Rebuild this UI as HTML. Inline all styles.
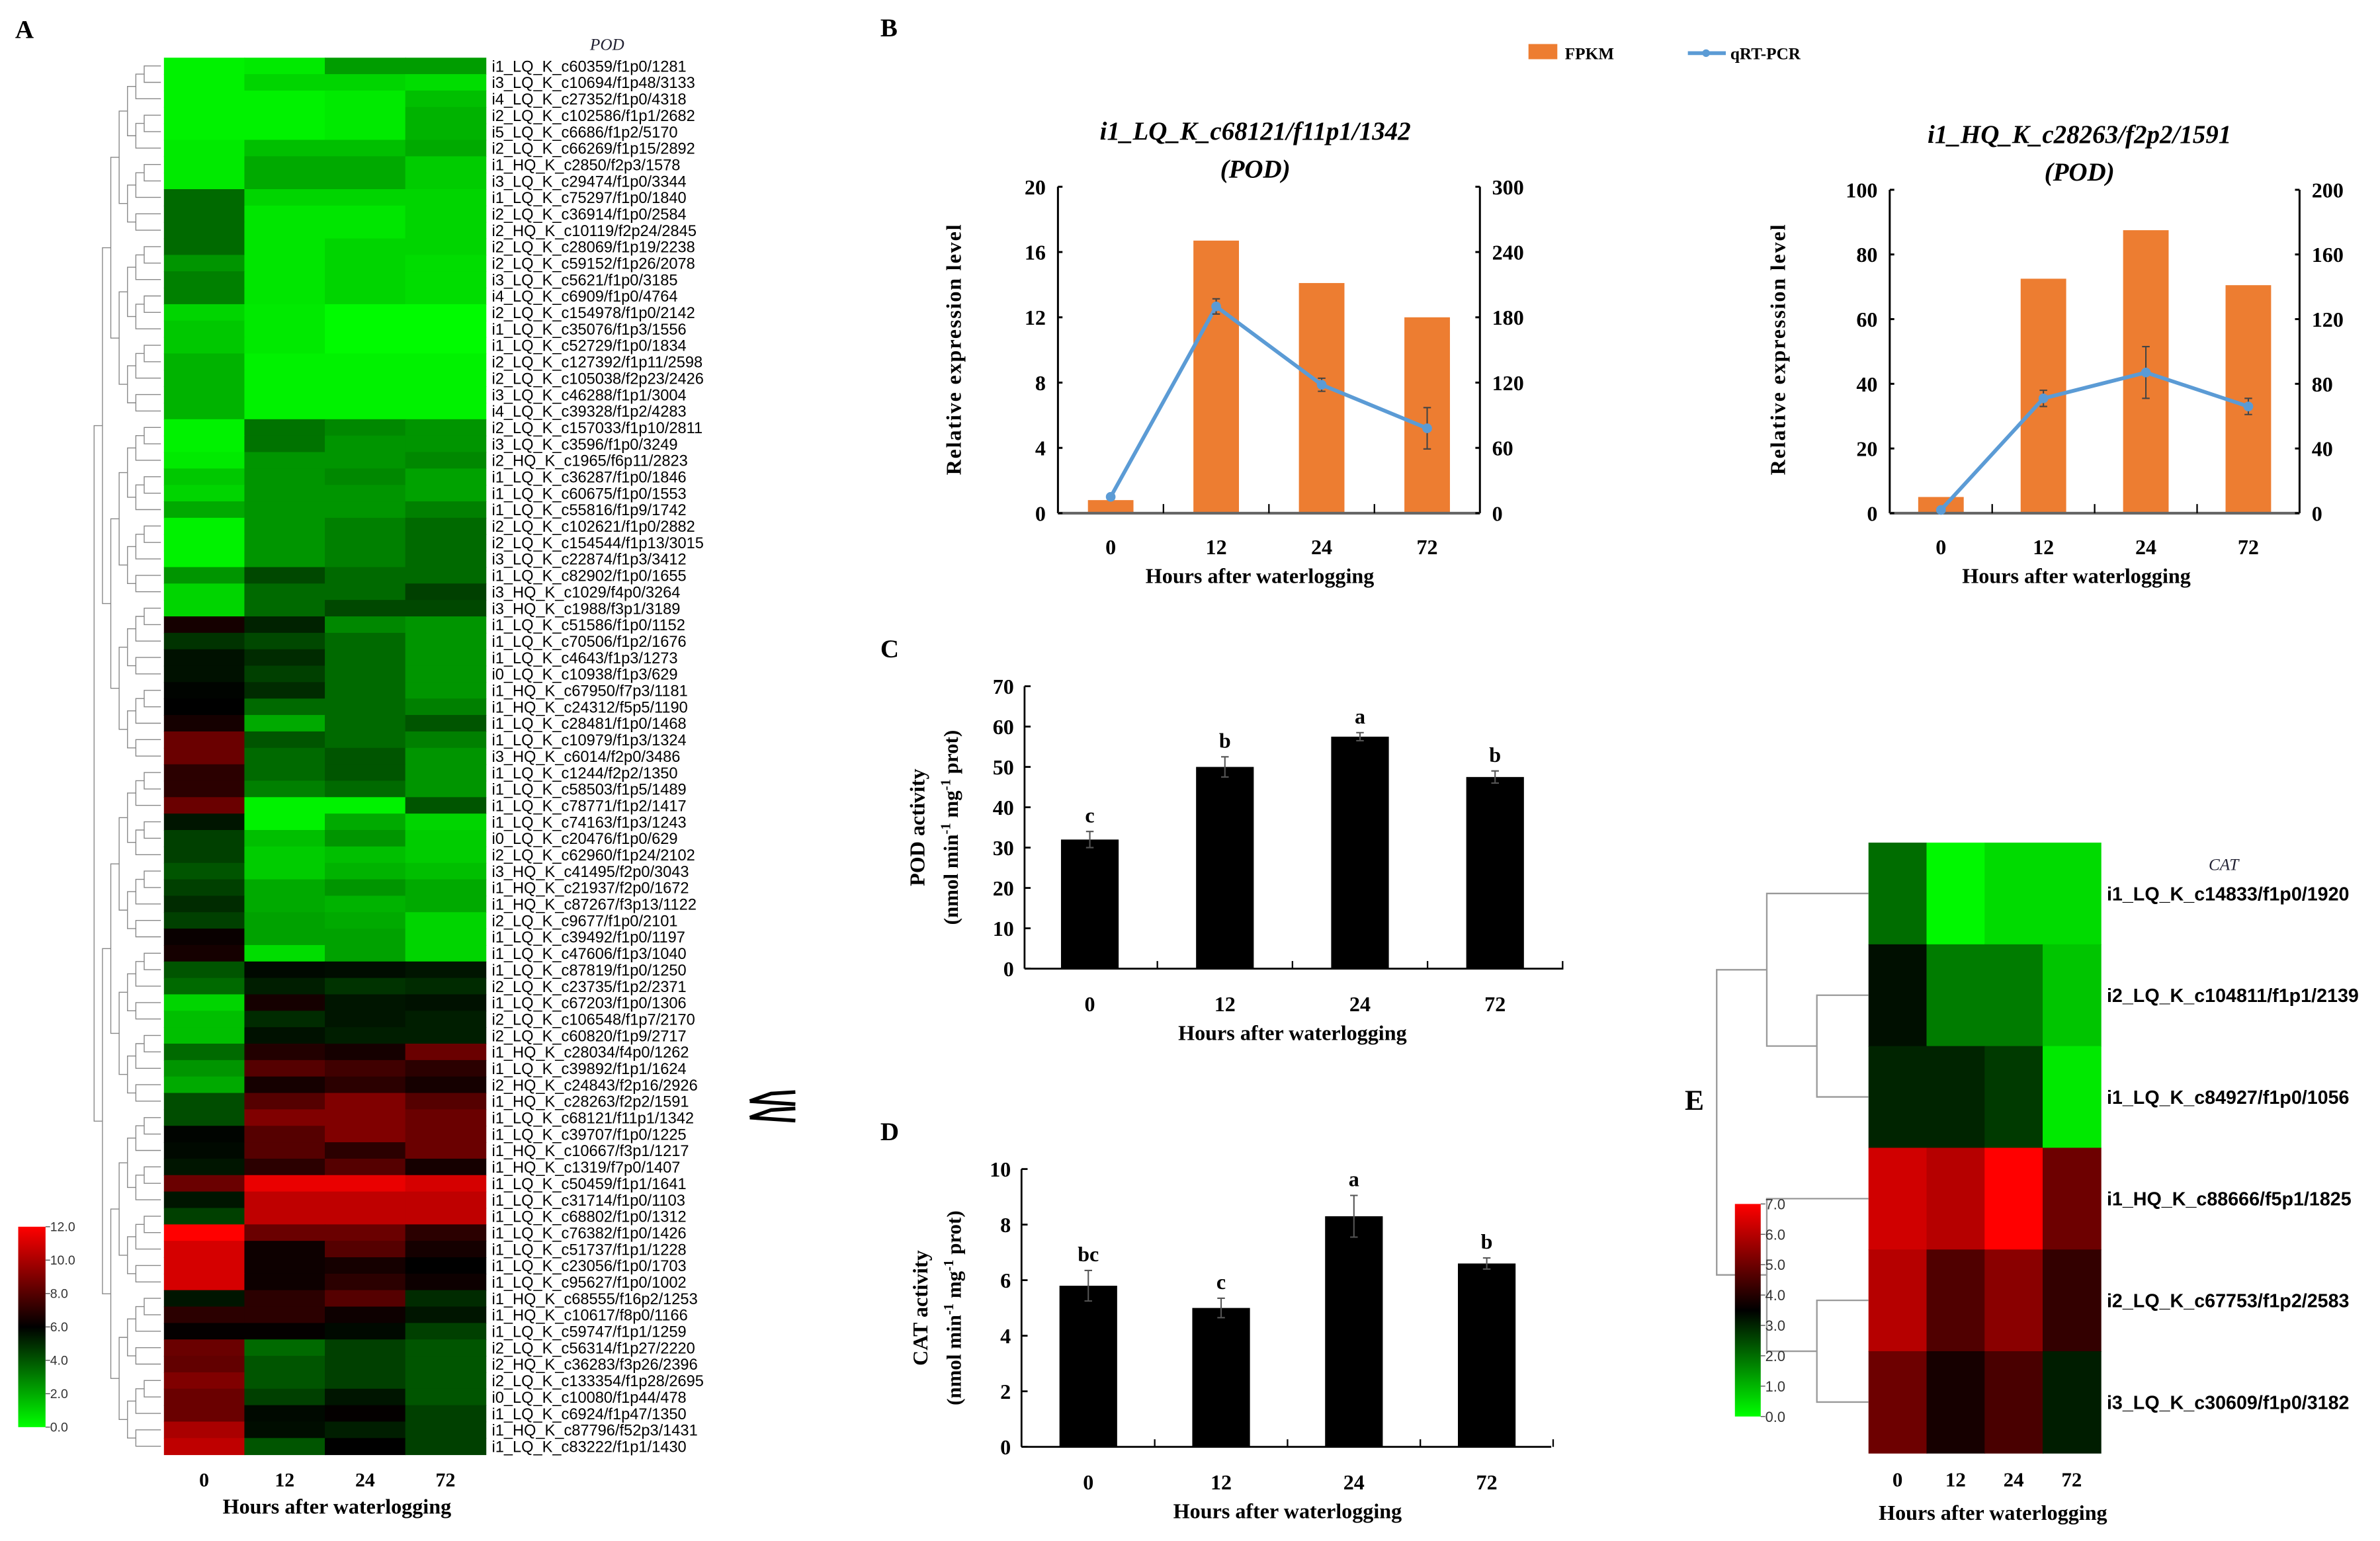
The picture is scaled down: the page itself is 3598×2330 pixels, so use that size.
<!DOCTYPE html>
<html><head><meta charset="utf-8">
<style>
html,body{margin:0;padding:0;background:#fff;}
svg{display:block;}
text{font-family:"Liberation Serif",serif;}
.sans{font-family:"Liberation Sans",sans-serif;}
</style></head>
<body>
<svg id="fig" width="3598" height="2330" viewBox="0 0 1568 1015" preserveAspectRatio="none" xmlns="http://www.w3.org/2000/svg">
<rect x="0" y="0" width="1568" height="1015" fill="#fff"/>
</svg>
<script>
// ---------- DATA ----------
const hoursCats = ["0","12","24","72"];
const podGenes = ["i1_LQ_K_c60359/f1p0/1281","i3_LQ_K_c10694/f1p48/3133","i4_LQ_K_c27352/f1p0/4318","i2_LQ_K_c102586/f1p1/2682","i5_LQ_K_c6686/f1p2/5170","i2_LQ_K_c66269/f1p15/2892","i1_HQ_K_c2850/f2p3/1578","i3_LQ_K_c29474/f1p0/3344","i1_LQ_K_c75297/f1p0/1840","i2_LQ_K_c36914/f1p0/2584","i2_HQ_K_c10119/f2p24/2845","i2_LQ_K_c28069/f1p19/2238","i2_LQ_K_c59152/f1p26/2078","i3_LQ_K_c5621/f1p0/3185","i4_LQ_K_c6909/f1p0/4764","i2_LQ_K_c154978/f1p0/2142","i1_LQ_K_c35076/f1p3/1556","i1_LQ_K_c52729/f1p0/1834","i2_LQ_K_c127392/f1p11/2598","i2_LQ_K_c105038/f2p23/2426","i3_LQ_K_c46288/f1p1/3004","i4_LQ_K_c39328/f1p2/4283","i2_LQ_K_c157033/f1p10/2811","i3_LQ_K_c3596/f1p0/3249","i2_HQ_K_c1965/f6p11/2823","i1_LQ_K_c36287/f1p0/1846","i1_LQ_K_c60675/f1p0/1553","i1_LQ_K_c55816/f1p9/1742","i2_LQ_K_c102621/f1p0/2882","i2_LQ_K_c154544/f1p13/3015","i3_LQ_K_c22874/f1p3/3412","i1_LQ_K_c82902/f1p0/1655","i3_HQ_K_c1029/f4p0/3264","i3_HQ_K_c1988/f3p1/3189","i1_LQ_K_c51586/f1p0/1152","i1_LQ_K_c70506/f1p2/1676","i1_LQ_K_c4643/f1p3/1273","i0_LQ_K_c10938/f1p3/629","i1_HQ_K_c67950/f7p3/1181","i1_HQ_K_c24312/f5p5/1190","i1_LQ_K_c28481/f1p0/1468","i1_LQ_K_c10979/f1p3/1324","i3_HQ_K_c6014/f2p0/3486","i1_LQ_K_c1244/f2p2/1350","i1_LQ_K_c58503/f1p5/1489","i1_LQ_K_c78771/f1p2/1417","i1_LQ_K_c74163/f1p3/1243","i0_LQ_K_c20476/f1p0/629","i2_LQ_K_c62960/f1p24/2102","i3_HQ_K_c41495/f2p0/3043","i1_HQ_K_c21937/f2p0/1672","i1_HQ_K_c87267/f3p13/1122","i2_LQ_K_c9677/f1p0/2101","i1_LQ_K_c39492/f1p0/1197","i1_LQ_K_c47606/f1p3/1040","i1_LQ_K_c87819/f1p0/1250","i2_LQ_K_c23735/f1p2/2371","i1_LQ_K_c67203/f1p0/1306","i2_LQ_K_c106548/f1p7/2170","i2_LQ_K_c60820/f1p9/2717","i1_HQ_K_c28034/f4p0/1262","i1_LQ_K_c39892/f1p1/1624","i2_HQ_K_c24843/f2p16/2926","i1_HQ_K_c28263/f2p2/1591","i1_LQ_K_c68121/f11p1/1342","i1_LQ_K_c39707/f1p0/1225","i1_HQ_K_c10667/f3p1/1217","i1_HQ_K_c1319/f7p0/1407","i1_LQ_K_c50459/f1p1/1641","i1_LQ_K_c31714/f1p0/1103","i1_LQ_K_c68802/f1p0/1312","i1_LQ_K_c76382/f1p0/1426","i1_LQ_K_c51737/f1p1/1228","i1_LQ_K_c23056/f1p0/1703","i1_LQ_K_c95627/f1p0/1002","i1_HQ_K_c68555/f16p2/1253","i1_HQ_K_c10617/f8p0/1166","i1_LQ_K_c59747/f1p1/1259","i2_LQ_K_c56314/f1p27/2220","i2_HQ_K_c36283/f3p26/2396","i2_LQ_K_c133354/f1p28/2695","i0_LQ_K_c10080/f1p44/478","i1_LQ_K_c6924/f1p47/1350","i1_HQ_K_c87796/f52p3/1431","i1_LQ_K_c83222/f1p1/1430"];
const podH0  = [0.3,0.3,0.3,0.3,0.3,0.5,0.5,0.5,3.5,3.5,3.5,3.5,2.5,3,3,1,1.3,1.3,1.8,1.8,1.8,1.8,0.3,0.3,0.5,1.3,1,2,0.3,0.3,0.3,2.5,1,1,6.5,4.8,5.6,5.6,5.9,6,6.5,8.5,8.5,7,7,8.5,5.5,4.5,4.5,4,4.5,5,4.5,6.2,6.5,4,3.5,1,1.5,1.5,3.5,2.5,2,4.2,4.2,5.9,5.8,5.5,8.5,5.5,4.5,12,11,11,11,5.5,7,6.1,8.5,8.3,9,8.5,8.5,10,10.5];
const podH12 = [0.5,1,0.3,0.3,0.3,1.5,2,2,1,0.6,0.6,0.6,0.6,0.6,0.6,0.5,0.5,0.5,0.3,0.3,0.3,0.3,3.3,3.3,2.5,2.5,2.5,2.5,2.5,2.5,2.5,4.3,3.5,3.5,5.2,4.3,5,4.5,5,3.5,2,4,3.5,3.5,3,0.3,0.3,1.5,1.2,1.2,2,2,2.2,2.2,0.8,5.8,5.3,6.5,5,5.6,6.8,8,6.5,8,9,8,8,7,11.5,10.5,10.5,8.5,6.3,6.3,6.3,7,7,6.1,3.5,4,4,4.5,5.8,5.7,4];
const podH24 = [2.3,1,0.5,0.5,0.5,1.5,2,2,1,0.6,0.6,1,1,1,1,0.1,0.1,0.1,0.3,0.3,0.3,0.3,2.8,2.5,2.5,2.8,2.5,2.5,3,3,3,3.5,3.5,4.3,2.8,3.5,3.5,3.5,3.5,3.5,3.5,3.5,4,4,3.5,0.3,2,2.5,1.5,1.8,2.5,1.8,2,2.2,2.2,5.7,4.8,5.5,5.5,5.3,6.5,7.5,7,9,9,9,7,8,11.5,10.5,10.5,8.5,8,6.5,7,8,6.3,5.8,4.5,4.5,4.5,5.5,6.1,5.3,6];
const podH72 = [2.3,0.8,1.5,1.8,1.8,2,1.2,1.2,1,1,1,1,0.8,0.8,0.8,0.1,0.1,0.1,0.3,0.3,0.3,0.3,2.5,2.5,2.8,2.2,2.2,3,3.5,3.5,3.5,3.5,4.5,4.3,2.5,2.5,2.5,2.5,2.5,3,4,3,2.5,2.5,2.5,4,1,1.2,1.2,1.5,2,2,1,1,1,5.5,5,5.6,5.3,5.3,8.5,7,6.5,8,8.5,8.5,8.5,6.5,11,10.5,10.5,7,6.5,6,6.3,5,5.5,4.5,4,4,4,4,4.5,4.5,4.5];
const podBarTicks = ["12.0","10.0","8.0","6.0","4.0","2.0","0.0"];

const b1Fpkm = [0.8,16.7,14.1,12.0];
const b1Qpcr = [15,190,118,78];
const b1QErr = [0,7,6,19];
const b1LeftTicks = [0,4,8,12,16,20];
const b1RightTicks = [0,60,120,180,240,300];
const b2Fpkm = [5,72.5,87.5,70.5];
const b2Qpcr = [2,71,87,66];
const b2QErr = [0,5,16,5];
const b2LeftTicks = [0,20,40,60,80,100];
const b2RightTicks = [0,40,80,120,160,200];

const podAct = [32,50,57.5,47.5];
const podErr = [2,2.5,1,1.5];
const podSig = ["c","b","a","b"];
const podTicks = [0,10,20,30,40,50,60,70];
const catAct = [5.8,5.0,8.3,6.6];
const catErr = [0.55,0.35,0.75,0.2];
const catSig = ["bc","c","a","b"];
const catTicks = [0,2,4,6,8,10];

const catGenes = ["i1_LQ_K_c14833/f1p0/1920","i2_LQ_K_c104811/f1p1/2139","i1_LQ_K_c84927/f1p0/1056","i1_HQ_K_c88666/f5p1/1825","i2_LQ_K_c67753/f1p2/2583","i3_LQ_K_c30609/f1p0/3182"];
const catH0  = [2.0,3.3,3.0,6.35,6.0,5.0];
const catH12 = [0.1,1.8,3.0,6.0,4.6,3.8];
const catH24 = [0.5,1.8,2.7,7.0,5.4,4.5];
const catH72 = [0.5,0.8,0.3,5.0,4.2,3.1];
const catBarTicks = ["7.0","6.0","5.0","4.0","3.0","2.0","1.0","0.0"];

// ---------- HELPERS ----------
const svg = document.getElementById('fig');
const NS = 'http://www.w3.org/2000/svg';
function mk(tag, attrs, parent){
  const e = document.createElementNS(NS, tag);
  for (const k in attrs) e.setAttribute(k, attrs[k]);
  (parent||svg).appendChild(e);
  return e;
}
function txt(x,y,s,opt){
  opt = opt||{};
  const t = mk('text',{x:x,y:y,'font-size':opt.size||12,'text-anchor':opt.anchor||'start','font-weight':opt.weight||'bold',fill:opt.fill||'#000'} , opt.parent);
  if (opt.italic) t.setAttribute('font-style','italic');
  if (opt.cls) t.setAttribute('class',opt.cls);
  if (opt.rot) t.setAttribute('transform','rotate('+opt.rot+' '+x+' '+y+')');
  if (opt.lsp) t.setAttribute('letter-spacing',opt.lsp);
  t.textContent = s;
  return t;
}
function heat(v, max){
  const mid = max/2;
  if (v <= mid){ const g = Math.round((mid - v)/mid*255); return 'rgb(0,'+g+',0)'; }
  const r = Math.round((v - mid)/mid*255); return 'rgb('+Math.min(255,r)+',0,0)';
}
function linearScale(d0,d1,r0,r1){ return v => r0 + (v-d0)/(d1-d0)*(r1-r0); }

// ---------- PANEL A ----------
const gA = mk('g',{});


let t;
t = txt(10,25,'A',{size:17,parent:gA});  
t = txt(400,33,'POD',{size:11,italic:true,weight:'normal',anchor:'middle',fill:'#223',parent:gA});  
const aX0 = 108, aX1 = 320, aY0 = 38, aY1 = 958;
const aRowH = (aY1-aY0)/podGenes.length, aColW = (aX1-aX0)/4;
const podCols = [podH0,podH12,podH24,podH72];
for (let r=0;r<podGenes.length;r++){
  for (let c=0;c<4;c++){
    const cell = mk('rect',{x:aX0+c*aColW,y:aY0+r*aRowH,width:aColW+0.4,height:aRowH+0.4,fill:heat(podCols[c][r],12)},gA);
    
    
  }
  const lab = txt(324,aY0+(r+0.5)*aRowH+3.8,podGenes[r],{size:10.3,weight:'normal',cls:'sans',parent:gA});
  
  
}
const leafY = i => aY0+(i+0.5)*aRowH;
function dendro(lo,hi,depth,parent,xRight,xLeft,maxDepth){
  if (lo===hi) return {y:leafY(lo),x:xRight};
  const mid = Math.floor((lo+hi)/2);
  const a = dendro(lo,mid,depth+1,parent,xRight,xLeft,maxDepth);
  const b = dendro(mid+1,hi,depth+1,parent,xRight,xLeft,maxDepth);
  const x = xLeft + (xRight-xLeft)*(depth/maxDepth);
  mk('path',{d:'M'+a.x+' '+a.y+'H'+x+'V'+b.y+'H'+b.x,fill:'none',stroke:'#888','stroke-width':0.6},parent);
  return {y:(a.y+b.y)/2,x:x};
}
const dA = mk('g',{},gA);


dendro(0,podGenes.length-1,0,dA,aX0-2,62,8);
hoursCats.forEach((h,i)=>{
  const l = txt(aX0+(i+0.5)*aColW,979,h,{size:13,anchor:'middle',parent:gA});
  
  
});
t = txt(222,997,'Hours after waterlogging',{size:14,anchor:'middle',parent:gA});  
const defs = mk('defs',{});
const lgA = mk('linearGradient',{id:'gA',x1:0,y1:1,x2:0,y2:0},defs);
mk('stop',{offset:'0','stop-color':'#00ff00'},lgA);mk('stop',{offset:'0.5','stop-color':'#000'},lgA);mk('stop',{offset:'1','stop-color':'#ff0000'},lgA);
const cbA = mk('rect',{x:12,y:808,width:18,height:132,fill:'url(#gA)'},gA);


podBarTicks.forEach((s,i)=>{
  const y = 808 + i*132/(podBarTicks.length-1);
  mk('line',{x1:30,x2:33,y1:y,y2:y,stroke:'#555','stroke-width':0.6},gA);
  const l = txt(33,y+3,s,{size:8.5,weight:'normal',cls:'sans',fill:'#333',parent:gA});
  
  
});
const arr = mk('g',{},gA);


[leafY(63),leafY(64)].forEach(y=>{
  mk('path',{d:'M494 '+y+' L508 '+(y-5)+' L524 '+(y-6)+' M494 '+y+' L524 '+(y+2),fill:'none',stroke:'#000','stroke-width':2.4},arr);
});

// ---------- PANEL B ----------
t = txt(580,24,'B',{size:17});  
const leg = mk('g',{});


const le1 = mk('rect',{x:1007,y:29,width:19,height:10,fill:'#ed7d31'},leg);
 
t = txt(1031,39,'FPKM',{size:11,parent:leg});  
const le2 = mk('line',{x1:1112,x2:1137,y1:35,y2:35,stroke:'#5b9bd5','stroke-width':2.5},leg);
 
mk('circle',{cx:1124,cy:35,r:2.5,fill:'#5b9bd5'},leg);
t = txt(1140,39,'qRT-PCR',{size:11,parent:leg});  

function panelB(cfg){
  const g = mk('g',{});
  
  
  const yL = linearScale(0,cfg.lt[cfg.lt.length-1],cfg.bot,cfg.top);
  const yR = linearScale(0,cfg.rt[cfg.rt.length-1],cfg.bot,cfg.top);
  const step = (cfg.xr-cfg.xl)/4;
  const xc = i => cfg.xl + step*(i+0.5);
  cfg.fpkm.forEach((v,i)=>{
    const b = mk('rect',{x:xc(i)-cfg.bw/2,y:yL(v),width:cfg.bw,height:cfg.bot-yL(v),fill:'#ed7d31'},g);
    
    
  });
  mk('line',{x1:cfg.xl,x2:cfg.xl,y1:cfg.top,y2:cfg.bot,stroke:'#000','stroke-width':1.3},g);
  mk('line',{x1:cfg.xr,x2:cfg.xr,y1:cfg.top,y2:cfg.bot,stroke:'#000','stroke-width':1.3},g);
  mk('line',{x1:cfg.xl,x2:cfg.xr,y1:cfg.bot,y2:cfg.bot,stroke:'#666','stroke-width':1.8},g);
  for (let i=1;i<4;i++) mk('line',{x1:cfg.xl+step*i,x2:cfg.xl+step*i,y1:cfg.bot,y2:cfg.bot-6,stroke:'#000','stroke-width':1},g);
  cfg.lt.forEach(v=>{
    mk('line',{x1:cfg.xl,x2:cfg.xl+3,y1:yL(v),y2:yL(v),stroke:'#000','stroke-width':1.3},g);
    const l = txt(cfg.xl-8,yL(v)+5,String(v),{size:14,anchor:'end',parent:g});
     
  });
  cfg.rt.forEach(v=>{
    mk('line',{x1:cfg.xr,x2:cfg.xr-3,y1:yR(v),y2:yR(v),stroke:'#000','stroke-width':1.3},g);
    const l = txt(cfg.xr+8,yR(v)+5,String(v),{size:14,parent:g});
     
  });
  hoursCats.forEach((h,i)=>{
    const l = txt(xc(i),365,h,{size:14,anchor:'middle',parent:g});
     
  });
  let tt = txt(cfg.xt,384,'Hours after waterlogging',{size:14,anchor:'middle',parent:g});
   
  tt = txt(cfg.ylx,230,'Relative expression level',{size:14,anchor:'middle',rot:-90,parent:g,lsp:0.8});
   
  tt = txt(cfg.tx,cfg.ty,cfg.title,{size:17,anchor:'middle',italic:true,parent:g});
   
  tt = txt(cfg.tx,cfg.ty+25,'(POD)',{size:17,anchor:'middle',italic:true,parent:g});
   
  let d='';
  cfg.q.forEach((v,i)=>{ d += (i?'L':'M')+xc(i)+' '+yR(v); });
  const ln = mk('path',{d:d,fill:'none',stroke:'#5b9bd5','stroke-width':2.5},g);
   
  cfg.q.forEach((v,i)=>{
    const e = cfg.qe[i];
    if (e>0){
      mk('path',{d:'M'+xc(i)+' '+yR(v-e)+'V'+yR(v+e)+'M'+(xc(i)-2.5)+' '+yR(v-e)+'h5M'+(xc(i)-2.5)+' '+yR(v+e)+'h5',stroke:'#444','stroke-width':0.9,fill:'none'},g);
    }
    const p = mk('circle',{cx:xc(i),cy:yR(v),r:3.2,fill:'#5b9bd5'},g);
     
  });
}
panelB({name:'panel-b-chart-1',xl:697,xr:975,top:123,bot:338,bw:30,fpkm:b1Fpkm,q:b1Qpcr,qe:b1QErr,lt:b1LeftTicks,rt:b1RightTicks,xt:830,ylx:633,tx:827,ty:92,title:'i1_LQ_K_c68121/f11p1/1342'});
panelB({name:'panel-b-chart-2',xl:1245,xr:1515,top:125,bot:338,bw:30,fpkm:b2Fpkm,q:b2Qpcr,qe:b2QErr,lt:b2LeftTicks,rt:b2RightTicks,xt:1368,ylx:1176,tx:1370,ty:94,title:'i1_HQ_K_c28263/f2p2/1591'});

// ---------- PANELS C & D ----------
function barPanel(cfg){
  const g = mk('g',{});
  
  
  const maxT = cfg.ticks[cfg.ticks.length-1];
  const y = linearScale(0,maxT,cfg.bot,cfg.top);
  const xc = i => cfg.c0 + cfg.step*i;
  cfg.vals.forEach((v,i)=>{
    const b = mk('rect',{x:xc(i)-cfg.bw/2,y:y(v),width:cfg.bw,height:cfg.bot-y(v),fill:'#000'},g);
     
    const e = cfg.err[i];
    mk('path',{d:'M'+xc(i)+' '+y(v-e)+'V'+y(v+e)+'M'+(xc(i)-2.5)+' '+y(v-e)+'h5M'+(xc(i)-2.5)+' '+y(v+e)+'h5',stroke:'#555','stroke-width':0.9,fill:'none'},g);
    const s = txt(xc(i),y(v+e)-6,cfg.sig[i],{size:14,anchor:'middle',parent:g});
     
    const l = txt(xc(i),cfg.bot+28,hoursCats[i],{size:14,anchor:'middle',parent:g});
     
  });
  mk('line',{x1:cfg.xl,x2:cfg.xl,y1:cfg.top,y2:cfg.bot,stroke:'#000','stroke-width':1.2},g);
  mk('line',{x1:cfg.xl,x2:cfg.xr,y1:cfg.bot,y2:cfg.bot,stroke:'#000','stroke-width':1.2},g);
  for (let i=1;i<=4;i++){ const x = cfg.c0 + cfg.step*(i-0.5); mk('line',{x1:x,x2:x,y1:cfg.bot,y2:cfg.bot-5,stroke:'#000','stroke-width':1},g); }
  cfg.ticks.forEach(v=>{
    mk('line',{x1:cfg.xl,x2:cfg.xl+4,y1:y(v),y2:y(v),stroke:'#000','stroke-width':1.2},g);
    const l = txt(cfg.xl-7,y(v)+5,String(v),{size:14,anchor:'end',parent:g});
     
  });
  let tt = txt(cfg.c0+cfg.step*1.5,cfg.bot+47,'Hours after waterlogging',{size:14,anchor:'middle',parent:g});
   
  const yc = (cfg.top+cfg.bot)/2;
  tt = txt(cfg.ylx,yc,cfg.ylab,{size:14,anchor:'middle',rot:-90,parent:g});
   
  const u = mk('text',{x:cfg.ylx+22,y:yc,'font-size':13.5,'text-anchor':'middle','font-weight':'bold',transform:'rotate(-90 '+(cfg.ylx+22)+' '+yc+')'},g);
   
  u.innerHTML = '(nmol min<tspan dy="-5" font-size="9">-1</tspan><tspan dy="5"> mg</tspan><tspan dy="-5" font-size="9">-1</tspan><tspan dy="5"> prot)</tspan>';
  tt = txt(580,cfg.top-19,cfg.letter,{size:17,parent:g});
   
}
barPanel({name:'panel-c-pod-activity',letter:'C',xl:675,xr:1030,c0:718,step:89,top:452,bot:638,bw:38,vals:podAct,err:podErr,sig:podSig,ticks:podTicks,ylx:609,ylab:'POD activity'});
barPanel({name:'panel-d-cat-activity',letter:'D',xl:673,xr:1022,c0:717,step:87.5,top:770,bot:953,bw:38,vals:catAct,err:catErr,sig:catSig,ticks:catTicks,ylx:611,ylab:'CAT activity'});

// ---------- PANEL E ----------
const gE = mk('g',{});


t = txt(1110,731,'E',{size:19,parent:gE});  
t = txt(1465,573,'CAT',{size:11,italic:true,weight:'normal',anchor:'middle',fill:'#223',parent:gE});  
const eX0=1231,eX1=1384,eY0=555,eY1=957;
const eRowH=(eY1-eY0)/catGenes.length, eColW=(eX1-eX0)/4;
const catCols=[catH0,catH12,catH24,catH72];
for (let r=0;r<catGenes.length;r++){
  for (let c=0;c<4;c++){
    const cell = mk('rect',{x:eX0+c*eColW,y:eY0+r*eRowH,width:eColW+0.4,height:eRowH+0.4,fill:heat(catCols[c][r],7)},gE);
    
    
  }
  const lab = txt(1388,eY0+(r+0.5)*eRowH+4.5,catGenes[r],{size:12.5,cls:'sans',parent:gE});
  
  
}
const eY = i => eY0+(i+0.5)*eRowH;
const dE = mk('g',{},gE);


const m12 = (eY(1)+eY(2))/2, m45=(eY(4)+eY(5))/2;
const top3=(eY(0)+m12)/2, bot3=(eY(3)+m45)/2;
[['M'+eX0+' '+eY(1)+'H1197V'+eY(2)+'H'+eX0],
 ['M'+eX0+' '+eY(0)+'H1164V'+m12+'H1197'],
 ['M'+eX0+' '+eY(4)+'H1197V'+eY(5)+'H'+eX0],
 ['M'+eX0+' '+eY(3)+'H1164V'+m45+'H1197'],
 ['M1164 '+top3+'H1131V'+bot3+'H1164']].forEach(p=>mk('path',{d:p[0],fill:'none',stroke:'#999','stroke-width':1},dE));
hoursCats.forEach((h,i)=>{
  const l = txt(eX0+(i+0.5)*eColW,979,h,{size:13.5,anchor:'middle',parent:gE});
   
});
t = txt(1313,1001,'Hours after waterlogging',{size:14,anchor:'middle',parent:gE});  
const lgE = mk('linearGradient',{id:'gE',x1:0,y1:1,x2:0,y2:0},defs);
mk('stop',{offset:'0','stop-color':'#00ff00'},lgE);mk('stop',{offset:'0.5','stop-color':'#000'},lgE);mk('stop',{offset:'1','stop-color':'#ff0000'},lgE);
const cbE = mk('rect',{x:1143,y:793,width:17,height:140,fill:'url(#gE)'},gE);
 
catBarTicks.forEach((s,i)=>{
  const y = 793 + i*140/(catBarTicks.length-1);
  mk('line',{x1:1160,x2:1163,y1:y,y2:y,stroke:'#555','stroke-width':0.6},gE);
  const l = txt(1163,y+3.5,s,{size:9.5,weight:'normal',cls:'sans',fill:'#333',parent:gE});
   
});
</script>
</body></html>
